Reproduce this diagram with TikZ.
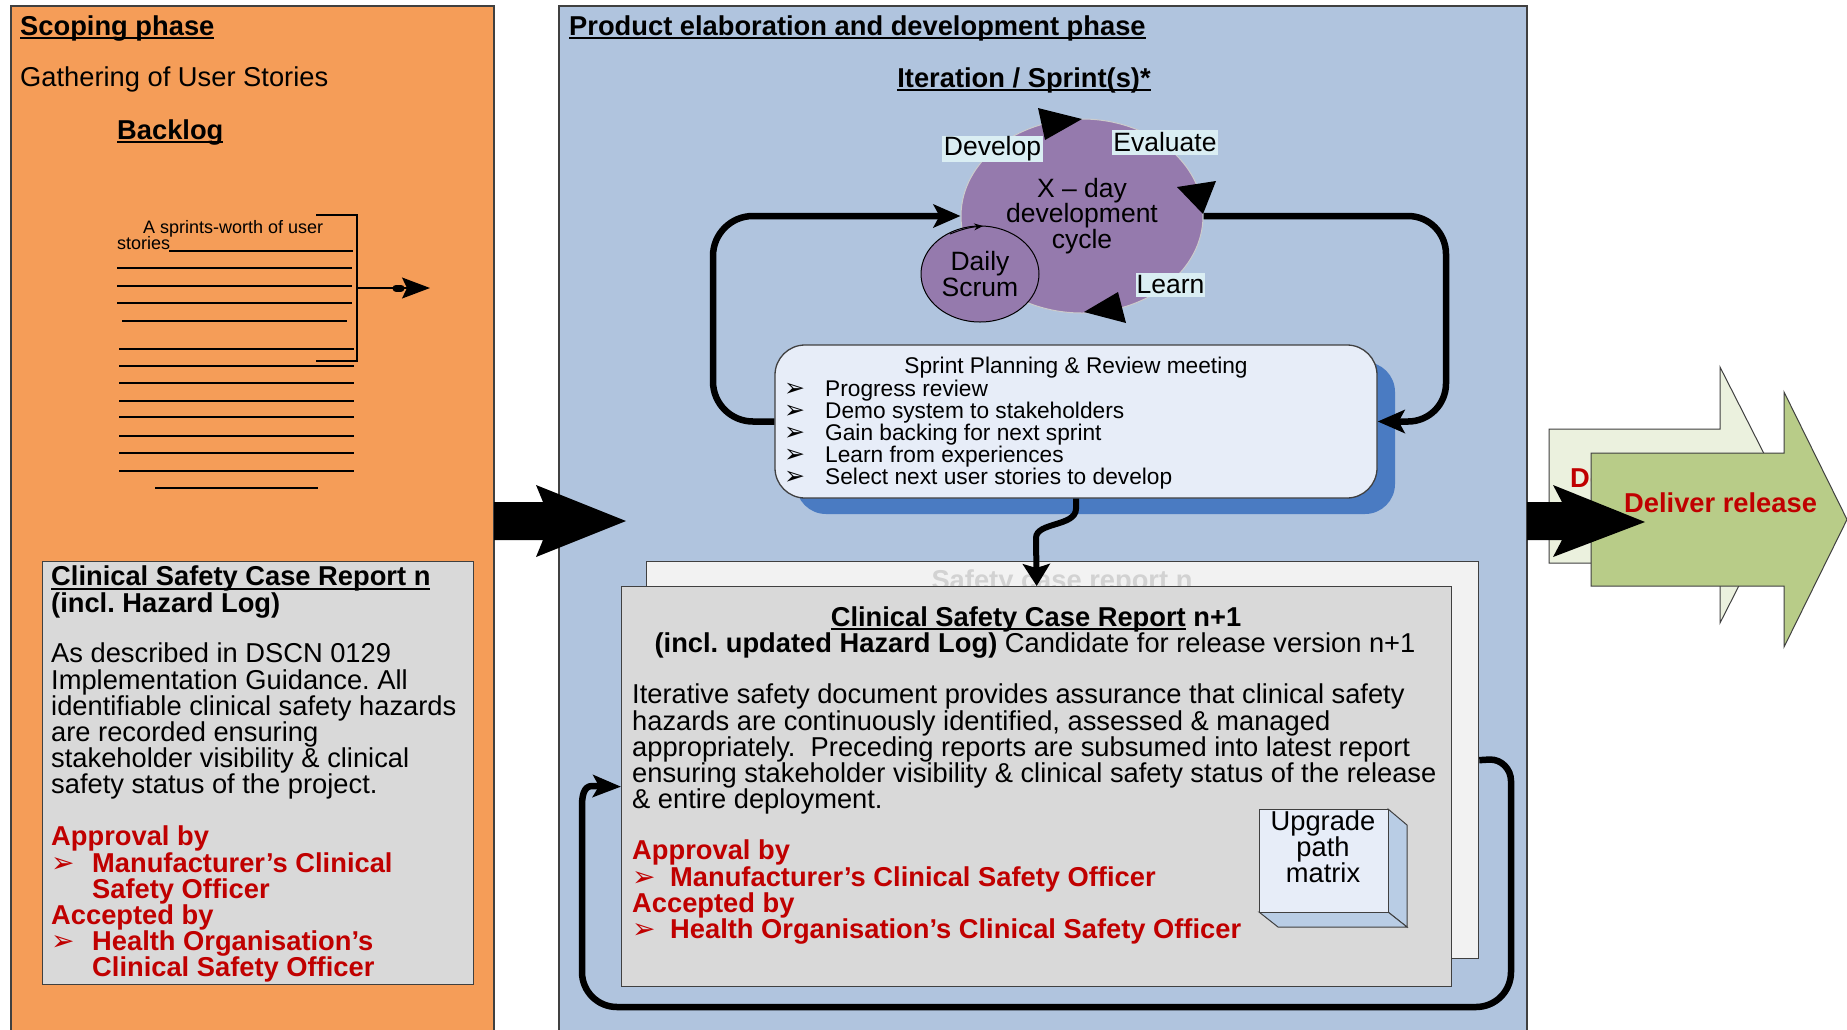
\documentclass[tikz,border=0pt]{standalone}
\usepackage{fontspec}
\setmainfont{Liberation Sans}
\newfontfamily\dingfont{DejaVu Sans}
\usetikzlibrary{shapes.geometric,arrows.meta}

\setlength{\lineskiplimit}{-100pt}
\frenchspacing

% palette
\definecolor{scopeorange}{RGB}{245,157,88}
\definecolor{devblue}{RGB}{176,196,222}
\definecolor{reportgray}{RGB}{217,217,217}
\definecolor{reportback}{RGB}{242,242,242}
\definecolor{cyclepurple}{RGB}{149,122,173}
\definecolor{labelcyan}{RGB}{218,238,243}
\definecolor{meetingfill}{RGB}{231,237,248}
\definecolor{meetingshadow}{RGB}{74,123,194}
\definecolor{releasegreen}{RGB}{184,204,136}
\definecolor{releasepale}{RGB}{235,241,222}
\definecolor{approvalred}{RGB}{192,0,0}
\definecolor{cubeside}{RGB}{185,205,229}
\definecolor{ghosttext}{RGB}{210,210,210}
\definecolor{edgegray}{RGB}{64,64,64}

% type sizes
\newcommand\fmain{\fontsize{27.3pt}{26.1pt}\selectfont}
\newcommand\fcyc{\fontsize{26.5pt}{25.5pt}\selectfont}
\newcommand\fmeet{\fontsize{22.7pt}{22pt}\selectfont}
\newcommand\fnote{\fontsize{18pt}{16.5pt}\selectfont}
\newcommand\arrowbullet[2]{\makebox[#1][l]{\dingfont\fontsize{#2}{#2}\selectfont ➢}}
\newcommand\ulinetext[1]{\setbox0=\hbox{#1}\rlap{\rule[-4pt]{\wd0}{2.2pt}}\box0\relax}

\begin{document}
\begin{tikzpicture}[x=1pt,y=-1pt,
  panel/.style={draw=edgegray, line width=1.2pt},
  txt/.style={inner sep=0pt, anchor=north west, align=left},
  basetxt/.style={inner sep=0pt, anchor=base west},
  looparrow/.style={line width=6.5pt, line join=round,
    -{Stealth[length=27pt,width=23pt,inset=6pt]}},
  lbl/.style={fill=labelcyan, inner sep=0pt, font=\fcyc},
  boxedge/.style={draw=edgegray, line width=1.3pt}]

\useasboundingbox (0,0) rectangle (1847,1029);
\fill[white] (0,0) rectangle (1847,1029);

% ---------- phase panels ----------
\path[panel, fill=scopeorange] (11,6) rectangle (494,1040);
\path[panel, fill=devblue] (559,6) rectangle (1527,1040);

% ---------- scoping phase ----------
\node[basetxt, font=\fmain\bfseries] (scopetitle) at (20,35) {\ulinetext{Scoping phase}};
\node[basetxt, font=\fmain] (gathering) at (20,86.5) {Gathering of User Stories};
\node[basetxt, font=\fmain\bfseries] (backlogtitle) at (117,139) {\ulinetext{Backlog}};

\node[basetxt, font=\fnote] (sprintsworth) at (143,233.5) {A sprints-worth of user};
\node[basetxt, font=\fnote] (storiesword) at (117,249.5) {stories};

\begin{scope}[line width=2pt]
  \draw (169,251) -- (353,251);
  \draw (117,268) -- (352,268);
  \draw (117,286) -- (352,286);
  \draw (117,303) -- (352,303);
  \draw (122,321) -- (347,321);
  \draw (119,349) -- (354,349);
  \draw (119,366) -- (354,366);
  \draw (119,383) -- (354,383);
  \draw (119,401) -- (354,401);
  \draw (119,417) -- (354,417);
  \draw (119,436) -- (354,436);
  \draw (119,453) -- (354,453);
  \draw (119,471) -- (354,471);
  \draw (155,488) -- (318,488);
\end{scope}

% bracket round the next sprint's stories
\coordinate (bracketmid) at (357,288);
\coordinate (backlogtip) at (430,288);
\draw[line width=1.2pt] (316,215) -- (357,215) -- (357,361) -- (316,361);
\draw[line width=1.3pt, -{Stealth[length=28pt,width=21pt,inset=5pt]}] (bracketmid) -- (backlogtip);
\draw[line width=7pt, line cap=round] (396,288) -- (401,288);

% safety case report n
\node[boxedge, fill=reportgray, anchor=north west, minimum width=431pt, minimum height=423pt, inner sep=0pt] (leftreport) at (42,561) {};
\node[txt, font=\fmain\bfseries] (lefttitle) at (51,566)
  {\ulinetext{Clinical Safety Case Report n}\\(incl. Hazard Log)};
\node[txt, font=\fmain] (leftbody) at (51,643)
  {As described in DSCN 0129\\Implementation Guidance. All\\identifiable clinical safety hazards\\are recorded ensuring\\stakeholder visibility \& clinical\\safety status of the project.};
\node[txt, font=\fmain\bfseries, text=approvalred] (leftapproval) at (51,826)
  {Approval by\\\arrowbullet{41pt}{28pt}Manufacturer’s Clinical\\\hspace*{41pt}Safety Officer\\Accepted by\\\arrowbullet{41pt}{28pt}Health Organisation’s\\\hspace*{41pt}Clinical Safety Officer};

% hand-over arrow between the phases
\fill (494,502) -- (543,502) -- (536,485) -- (626,521) -- (536,557) -- (543,540) -- (494,540) -- cycle;

% ---------- development phase ----------
\node[basetxt, font=\fmain\bfseries] (devtitle) at (569,35) {\ulinetext{Product elaboration and development phase}};
\node[inner sep=0pt, anchor=base, font=\fmain\bfseries] (itertitle) at (1024,87) {\ulinetext{Iteration / Sprint(s)*}};

% sprint planning & review meeting
\fill[meetingshadow, rounded corners=30pt] (796,362) rectangle (1395,514);
\node[boxedge, fill=meetingfill, rounded corners=30pt, minimum width=602pt, minimum height=153pt, inner sep=0pt] (sprint) at (1076,421.5) {};
\node[inner sep=0pt, anchor=base, font=\fmeet] (meettitle) at (1076,373) {Sprint Planning \& Review meeting};
\node[txt, font=\fmeet] (meetlist) at (784,379.6)
  {\arrowbullet{41pt}{25pt}Progress review\\
   \arrowbullet{41pt}{25pt}Demo system to stakeholders\\
   \arrowbullet{41pt}{25pt}Gain backing for next sprint\\
   \arrowbullet{41pt}{25pt}Learn from experiences\\
   \arrowbullet{41pt}{25pt}Select next user stories to develop};

% development cycle
\node[ellipse, fill=cyclepurple, draw=white!80!black, line width=1pt, minimum width=242pt, minimum height=194pt, inner sep=0pt, align=center, font=\fcyc] (cycle) at (1082,216)
  {X \textendash{} day\\development\\cycle};
\fill (1038,108) -- (1082,119) -- (1045,140) -- cycle;
\fill (1177,187) -- (1216,181) -- (1203,214) -- cycle;
\fill (1084,312) -- (1118,292) -- (1126,323) -- cycle;

\node[ellipse, fill=cyclepurple, draw=black, line width=1pt, minimum width=118pt, minimum height=96pt, inner sep=0pt, align=center, font=\fcyc] (scrum) at (980,274)
  {Daily\\Scrum};
\draw[line width=1pt, -{Stealth[length=9pt,width=7pt]}] (950,234) to[bend left=8] (983,226);

\node[lbl, minimum width=101pt, minimum height=26pt] (lbldevelop) at (992.5,149) {Develop};
\node[lbl, minimum width=106pt, minimum height=25pt] (lblevaluate) at (1165,142.5) {Evaluate};
\node[lbl, minimum width=69pt, minimum height=24pt] (lbllearn) at (1170.5,285) {Learn};

% loops between the meeting and the cycle
\draw[looparrow, rounded corners=40pt] (sprint.west) -- (713,421.5) -- (713,216) -- (cycle.west);
\draw[looparrow, rounded corners=38pt] (cycle.east) -- (1446,216) -- (1446,421.5) -- (sprint.east);

% safety case reports
\node[boxedge, fill=reportback, anchor=north west, minimum width=832pt, minimum height=397pt, inner sep=0pt] (backreport) at (646,561) {};
\node[inner sep=0pt, anchor=base, font=\fmain\bfseries, text=ghosttext] (ghosttitle) at (1062,589) {Safety case report n};
\node[boxedge, fill=reportgray, anchor=north west, minimum width=830pt, minimum height=400pt, inner sep=0pt] (report) at (621,586) {};

\node[inner sep=0pt, anchor=base, font=\fmain] (reporttitle) at (1036,626)
  {\textbf{\ulinetext{Clinical Safety Case Report} n+1}};
\node[inner sep=0pt, anchor=base, font=\fmain] (reportsub) at (1035,652)
  {\textbf{(incl. updated Hazard Log)} Candidate for release version n+1};
\node[txt, font=\fmain] (reportbody) at (632,684)
  {Iterative safety document provides assurance that clinical safety\\hazards are continuously identified, assessed \& managed\\appropriately.~ Preceding reports are subsumed into latest report\\ensuring stakeholder visibility \& clinical safety status of the release\\\& entire deployment.};
\node[txt, font=\fmain\bfseries, text=approvalred] (reportapproval) at (632,840)
  {Approval by\\\arrowbullet{38pt}{28pt}Manufacturer’s Clinical Safety Officer\\Accepted by\\\arrowbullet{38pt}{28pt}Health Organisation’s Clinical Safety Officer};

% upgrade path matrix block
\filldraw[fill=cubeside, draw=edgegray, line width=1pt] (1388,809) -- (1407,825) -- (1407,927) -- (1388,912) -- cycle;
\filldraw[fill=cubeside, draw=edgegray, line width=1pt] (1259,912) -- (1388,912) -- (1407,927) -- (1278,927) -- cycle;
\node[draw=edgegray, line width=1pt, fill=meetingfill, anchor=north west, minimum width=129pt, minimum height=103pt, inner sep=0pt] (cubeface) at (1259,809) {};
\node[inner sep=0pt, align=center, font=\fmain] (cubetext) at (1323,846.5) {Upgrade\\path\\matrix};

% meeting feeds the next report
\draw[line width=6pt, -{Stealth[length=22pt,width=27pt,inset=4pt]}]
  (sprint.south) -- ++(0,10) .. controls +(0,18) and +(0,-16) .. (1036,538) -- (report.north);

% report loops back into itself
\draw[looparrow, -{Stealth[length=28pt,width=22pt,inset=6pt]}]
  (backreport.east) -- (1490,759.5) to[out=0,in=90] (1511,781) -- (1511,972)
  to[out=-90,in=0] (1476,1007) -- (617,1007) to[out=180,in=-90] (582,972)
  -- (582,806) to[out=90,in=180] (592,786) -- (report.west);

% ---------- release ----------
\filldraw[fill=releasepale, draw=edgegray, line width=1pt]
  (1549,429) -- (1720,429) -- (1720,367) -- (1785,495) -- (1720,623) -- (1720,563) -- (1549,563) -- cycle;
\node[basetxt, font=\fmain\bfseries, text=approvalred] (releaseback) at (1570,487) {Deliver release};
\filldraw[fill=releasegreen, draw=edgegray, line width=1pt]
  (1591,453) -- (1784,453) -- (1784,392) -- (1847,519.5) -- (1784,647) -- (1784,586) -- (1591,586) -- cycle;
\node[basetxt, font=\fmain\bfseries, text=approvalred] (releasetext) at (1624,512) {Deliver release};

\fill (1527,502) -- (1562,502) -- (1553,485) -- (1645,522) -- (1553,557) -- (1562,540) -- (1527,540) -- cycle;

\end{tikzpicture}
\end{document}
